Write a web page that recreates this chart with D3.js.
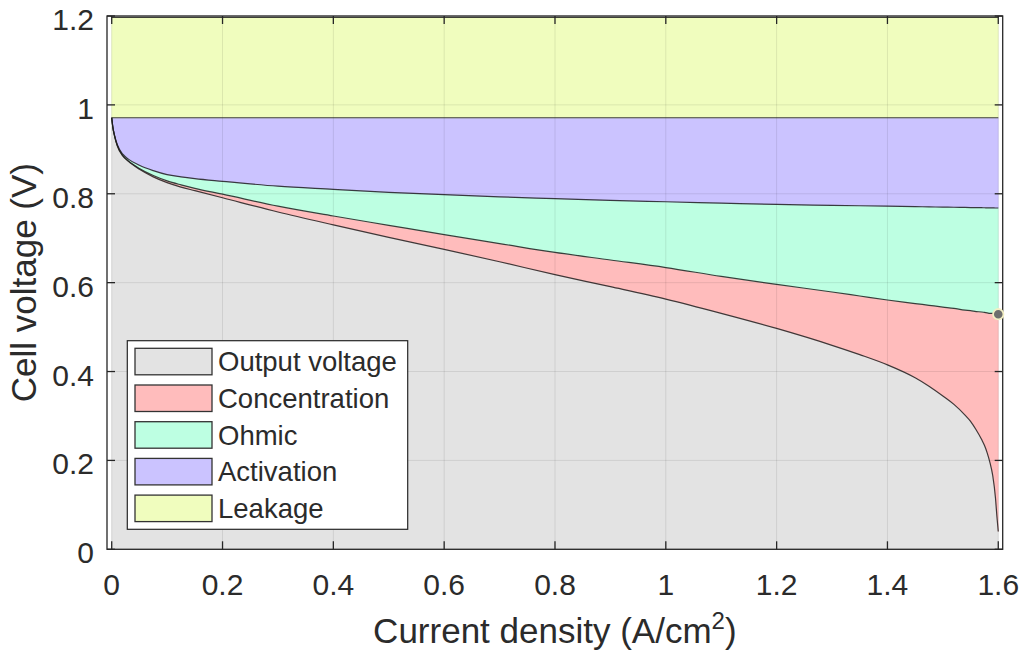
<!DOCTYPE html>
<html>
<head>
<meta charset="utf-8">
<script src="https://cdn.jsdelivr.net/npm/d3@7"></script>
<style>
  html, body { margin: 0; padding: 0; background: #ffffff; }
  svg { display: block; }
  text { font-family: "Liberation Sans", Arial, Helvetica, sans-serif; fill: #2b2b2b; }
</style>
</head>
<body>
<svg id="chart" width="1022" height="659"></svg>
<script>
// ---------------- DATA ----------------
const currentDensity = [0, 0.002, 0.005, 0.01, 0.02, 0.03, 0.05, 0.075, 0.1, 0.125, 0.15, 0.2, 0.3, 0.4, 0.5, 0.6, 0.7, 0.8, 0.9, 1.0, 1.1, 1.2, 1.3, 1.35, 1.4, 1.45, 1.475, 1.5, 1.52, 1.54, 1.55, 1.56, 1.57, 1.575, 1.58, 1.585, 1.59, 1.595, 1.5975, 1.6];
// output cell voltage (bottom grey area top edge)
const outputVoltage = [0.971, 0.950, 0.931, 0.908, 0.885, 0.873, 0.855, 0.838, 0.825, 0.815, 0.807, 0.791, 0.759, 0.730, 0.702, 0.675, 0.647, 0.618, 0.591, 0.563, 0.531, 0.497, 0.459, 0.438, 0.415, 0.386, 0.367, 0.345, 0.326, 0.302, 0.288, 0.269, 0.247, 0.234, 0.217, 0.195, 0.166, 0.115, 0.075, 0.040];
// voltage after ohmic loss (top edge of the concentration band)
const ohmicBoundary = [0.971, 0.950, 0.931, 0.909, 0.886, 0.874, 0.857, 0.841, 0.829, 0.820, 0.812, 0.799, 0.772, 0.750, 0.729, 0.708, 0.688, 0.668, 0.651, 0.634, 0.614, 0.596, 0.579, 0.570, 0.561, 0.553, 0.549, 0.545, 0.542, 0.538, 0.537, 0.535, 0.534, 0.533, 0.532, 0.531, 0.531, 0.530, 0.529, 0.529];
// voltage after activation loss (top edge of the ohmic band)
const activationBoundary = [0.971, 0.950, 0.932, 0.911, 0.889, 0.878, 0.864, 0.852, 0.843, 0.838, 0.834, 0.828, 0.817, 0.810, 0.803, 0.798, 0.793, 0.789, 0.785, 0.782, 0.779, 0.776, 0.774, 0.773, 0.772, 0.771, 0.7705, 0.770, 0.7697, 0.7692, 0.769, 0.7688, 0.7686, 0.7685, 0.7684, 0.7683, 0.7682, 0.768, 0.768, 0.768];
const activationTop = 0.971;   // top of activation band (after leakage)
const leakageTop = 1.197;      // reversible voltage
const markerPoint = [1.6, 0.529];

const legendLabels = ["Output voltage", "Concentration", "Ohmic", "Activation", "Leakage"];
const xTicks = [0, 0.2, 0.4, 0.6, 0.8, 1, 1.2, 1.4, 1.6];
const yTicks = [0, 0.2, 0.4, 0.6, 0.8, 1, 1.2];
const xLimits = [-0.0085, 1.608];
const yLimits = [0, 1.2];

// ---------------- LAYOUT / STYLE ----------------
const box = { left: 107, right: 1002.7, top: 16, bottom: 549.3 };
const colors = {
  output: "#e3e3e3",
  concentration: "#ffbcbc",
  ohmic: "#bdffe2",
  activation: "#cbc3ff",
  leakage: "#f0fdbe"
};
const axisColor = "#262626";

const svg = d3.select("#chart");
const x = d3.scaleLinear().domain(xLimits).range([box.left, box.right]);
const y = d3.scaleLinear().domain(yLimits).range([box.bottom, box.top]);

const rows = currentDensity.map((c, i) => ({
  c, out: outputVoltage[i], ohm: ohmicBoundary[i], act: activationBoundary[i]
}));

const curve = d3.curveMonotoneX;
const band = (lo, hi) => d3.area().curve(curve).x(d => x(d.c)).y0(d => y(lo(d))).y1(d => y(hi(d)));

const bands = [
  { lo: d => 0, hi: d => d.out, color: colors.output },
  { lo: d => d.out, hi: d => d.ohm, color: colors.concentration },
  { lo: d => d.ohm, hi: d => d.act, color: colors.ohmic },
  { lo: d => d.act, hi: d => activationTop, color: colors.activation },
  { lo: d => activationTop, hi: d => leakageTop, color: colors.leakage }
];

const gBands = svg.append("g");
bands.forEach(b => {
  gBands.append("path").attr("d", band(b.lo, b.hi)(rows))
    .attr("fill", b.color).attr("stroke", b.color).attr("stroke-width", 0.5);
});

// grid lines
const gGrid = svg.append("g").attr("stroke", "#000").attr("stroke-opacity", 0.09).attr("stroke-width", 1);
xTicks.forEach(t => gGrid.append("line").attr("x1", x(t)).attr("x2", x(t)).attr("y1", box.top).attr("y2", box.bottom));
yTicks.forEach(t => gGrid.append("line").attr("y1", y(t)).attr("y2", y(t)).attr("x1", box.left).attr("x2", box.right));

// edge lines
const line = key => d3.line().curve(curve).x(d => x(d.c)).y(d => y(key(d)));
const gEdges = svg.append("g").attr("fill", "none").attr("stroke", "#1e1e1e").attr("stroke-opacity", 0.85).attr("stroke-width", 1.2);
[d => d.out, d => d.ohm, d => d.act, d => activationTop, d => leakageTop].forEach(k => {
  gEdges.append("path").attr("d", line(k)(rows));
});

// axes box and ticks (MATLAB style, inward ticks on all sides)
const tickLen = 8;
const gAxes = svg.append("g").attr("stroke", axisColor).attr("stroke-width", 1.3).attr("fill", "none");
gAxes.append("rect").attr("x", box.left).attr("y", box.top)
  .attr("width", box.right - box.left).attr("height", box.bottom - box.top);
xTicks.forEach(t => {
  gAxes.append("line").attr("x1", x(t)).attr("x2", x(t)).attr("y1", box.bottom).attr("y2", box.bottom - tickLen);
  gAxes.append("line").attr("x1", x(t)).attr("x2", x(t)).attr("y1", box.top).attr("y2", box.top + tickLen);
});
yTicks.forEach(t => {
  gAxes.append("line").attr("y1", y(t)).attr("y2", y(t)).attr("x1", box.left).attr("x2", box.left + tickLen);
  gAxes.append("line").attr("y1", y(t)).attr("y2", y(t)).attr("x1", box.right).attr("x2", box.right - tickLen);
});

const fmt = d3.format("~g");
svg.append("g").selectAll("text").data(xTicks).join("text")
  .attr("x", d => x(d)).attr("y", 595).attr("text-anchor", "middle")
  .attr("font-size", 30).text(d => fmt(d));
svg.append("g").selectAll("text").data(yTicks).join("text")
  .attr("x", 94).attr("y", d => y(d) + 14).attr("text-anchor", "end")
  .attr("font-size", 30).text(d => fmt(d));

// axis labels
const xl = svg.append("text").attr("x", (box.left + box.right) / 2).attr("y", 643)
  .attr("text-anchor", "middle").attr("font-size", 35);
xl.append("tspan").text("Current density (A/cm");
xl.append("tspan").attr("dy", -14).attr("font-size", 24).text("2");
xl.append("tspan").attr("dy", 14).text(")");

svg.append("text").attr("transform", `translate(36,${(box.top + box.bottom) / 2}) rotate(-90)`)
  .attr("text-anchor", "middle").attr("font-size", 35).text("Cell voltage (V)");

// legend
const lg = svg.append("g");
lg.append("rect").attr("x", 127.3).attr("y", 340.7).attr("width", 280.4).attr("height", 188.6)
  .attr("fill", "#fff").attr("stroke", axisColor).attr("stroke-width", 1.2);
const swatchColors = [colors.output, colors.concentration, colors.ohmic, colors.activation, colors.leakage];
legendLabels.forEach((lab, i) => {
  const yy = 348.3 + i * 36.7;
  lg.append("rect").attr("x", 135).attr("y", yy).attr("width", 77).attr("height", 26.5)
    .attr("fill", swatchColors[i]).attr("stroke", "#333").attr("stroke-width", 1.3);
  lg.append("text").attr("x", 218).attr("y", yy + 23).attr("font-size", 27.5).text(lab);
});

// data tip marker
svg.append("circle").attr("cx", x(markerPoint[0])).attr("cy", y(markerPoint[1])).attr("r", 5.2)
  .attr("fill", "#6e6e6e").attr("stroke", "#f3efc4").attr("stroke-width", 1.8);
</script>
</body>
</html>
